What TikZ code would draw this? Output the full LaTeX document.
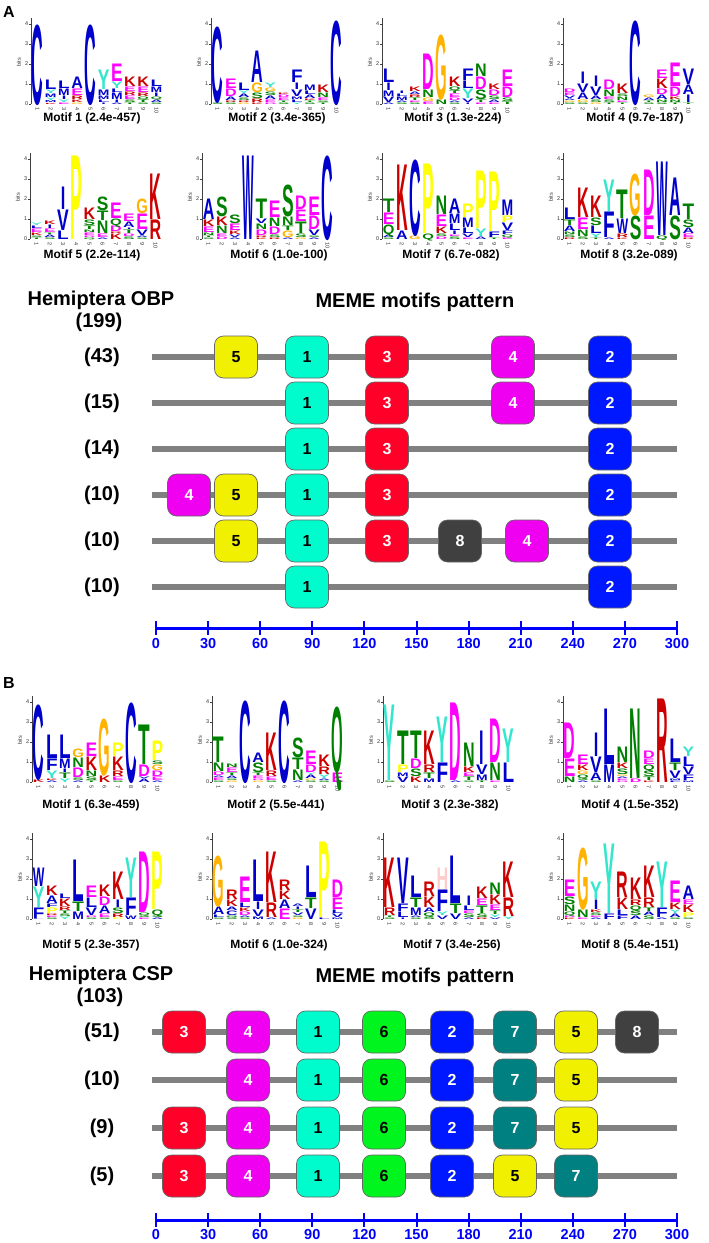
\documentclass[tikz,border=0pt]{standalone}
\usepackage{fontspec}
\setmainfont{Liberation Sans}
\usepackage{graphicx}
% logo colours
\definecolor{lgBlue}{RGB}{0,0,204}
\definecolor{lgGreen}{RGB}{0,128,0}
\definecolor{lgMag}{RGB}{255,0,255}
\definecolor{lgRed}{RGB}{204,0,0}
\definecolor{lgOrange}{RGB}{255,179,0}
\definecolor{lgYel}{RGB}{255,255,0}
\definecolor{lgCyan}{RGB}{51,230,204}
\definecolor{lgPink}{RGB}{255,204,204}
\colorlet{aaA}{lgBlue}\colorlet{aaC}{lgBlue}\colorlet{aaF}{lgBlue}\colorlet{aaI}{lgBlue}
\colorlet{aaL}{lgBlue}\colorlet{aaV}{lgBlue}\colorlet{aaW}{lgBlue}\colorlet{aaM}{lgBlue}
\colorlet{aaN}{lgGreen}\colorlet{aaQ}{lgGreen}\colorlet{aaS}{lgGreen}\colorlet{aaT}{lgGreen}
\colorlet{aaD}{lgMag}\colorlet{aaE}{lgMag}
\colorlet{aaK}{lgRed}\colorlet{aaR}{lgRed}
\colorlet{aaG}{lgOrange}\colorlet{aaP}{lgYel}\colorlet{aaY}{lgCyan}\colorlet{aaH}{lgPink}
% motif box colours
\definecolor{mcolA}{RGB}{0,252,204}
\definecolor{mcolB}{RGB}{0,24,255}
\definecolor{mcolC}{RGB}{255,0,40}
\definecolor{mcolD}{RGB}{240,0,240}
\definecolor{mcolE}{RGB}{240,240,0}
\definecolor{mcolF}{RGB}{0,245,30}
\definecolor{mcolG}{RGB}{0,128,128}
\definecolor{mcolH}{RGB}{64,64,64}
\definecolor{axblue}{RGB}{0,0,255}
\definecolor{linegrey}{RGB}{128,128,128}

\tikzset{
  lgnode/.style={inner sep=0,outer sep=0,anchor=base,font=\bfseries},
  lgax/.style={draw=black!75,line width=0.4pt},
  lgtick/.style={inner sep=0,font=\fontsize{5.5}{6}\selectfont,text=black!80},
  mlab/.style={inner sep=0,font=\fontsize{12}{14}\selectfont\bfseries},
  ttl/.style={inner sep=0,font=\fontsize{20}{24}\selectfont\bfseries},
  panel/.style={inner sep=0,anchor=base west,font=\fontsize{16}{18}\selectfont\bfseries},
  bbline/.style={draw=linegrey,line width=6pt},
  mb/.style={draw=black!60,line width=0.7pt,rounded corners=9pt,minimum width=43pt,
     minimum height=42pt,inner sep=0,font=\fontsize{16}{16}\selectfont\bfseries},
  mb1/.style={mb,fill=mcolA,text=black},
  mb2/.style={mb,fill=mcolB,text=white},
  mb3/.style={mb,fill=mcolC,text=white},
  mb4/.style={mb,fill=mcolD,text=white},
  mb5/.style={mb,fill=mcolE,text=black},
  mb6/.style={mb,fill=mcolF,text=black},
  mb7/.style={mb,fill=mcolG,text=white},
  mb8/.style={mb,fill=mcolH,text=white},
  axln/.style={draw=axblue,line width=3pt},
  axtk/.style={draw=axblue,line width=2pt},
  axl/.style={inner sep=0,anchor=base,text=axblue,font=\fontsize{14.5}{15}\selectfont\bfseries}
}

\def\lgIletter{I}
\def\LX{0}\def\LY{0}
\newcommand\lgaxes[2]{%
  \def\LX{#1}\def\LY{#2}%
  \draw[lgax] (#1,#2) -- (#1,#2-86);
  \foreach \tk in {0,1,2,3,4}{%
    \draw[lgax] (#1-1.8,#2-\tk*20) -- (#1,#2-\tk*20);
    \node[lgtick,anchor=east] at (#1-2.6,#2-\tk*20) {\tk};}
  \node[lgtick,rotate=90] at (#1-12,#2-42) {bits};
  \foreach \cn in {1,...,10}{%
    \node[lgtick,rotate=-90,anchor=west] at (#1+\cn*13.2-6.6,#2+3) {\cn};}
}
\newcommand\lgstack[2]{%
  \gdef\lgbase{0}%
  \foreach \lgL/\lgh in {#2}{%
    \pgfmathsetmacro\lgy{\LY-\lgbase*20}%
    \pgfmathsetmacro\lgx{\LX+(#1-0.5)*13.2}%
    \pgfmathsetmacro\lghh{max(\lgh*20-0.5,0.6)}%
    \edef\lgtmp{\lgL}%
    \ifx\lgtmp\lgIletter\def\lgw{4.5pt}\else\def\lgw{11.6pt}\fi
    \node[lgnode] at (\lgx,\lgy) {\textcolor{aa\lgL}{\resizebox{\lgw}{\lghh pt}{\lgL}}};%
    \pgfmathsetmacro\lgnb{\lgbase+\lgh}\xdef\lgbase{\lgnb}%
  }}

\begin{document}
\begin{tikzpicture}[x=1pt,y=-1pt]
\useasboundingbox[fill=white] (0,0) rectangle (709,1243);

% ================= PANEL A =================
\node[panel] (pA) at (3,17) {A};

% ---- A Motif 1
\lgaxes{31}{104}
\lgstack{1}{C/4.0}
\lgstack{2}{K/0.08,M/0.12,Y/0.15,M/0.2,Y/0.2,L/0.5}
\lgstack{3}{E/0.1,Y/0.15,I/0.2,M/0.35,L/0.4}
\lgstack{4}{G/0.1,K/0.15,R/0.2,E/0.35,A/0.6}
\lgstack{5}{C/4.0}
\lgstack{6}{I/0.1,L/0.15,M/0.2,M/0.3,Y/1.0}
\lgstack{7}{A/0.1,I/0.15,M/0.35,L/0.2,Y/0.35,E/0.9}
\lgstack{8}{T/0.1,S/0.15,E/0.2,R/0.2,E/0.25,K/0.5}
\lgstack{9}{S/0.1,T/0.15,Q/0.15,R/0.2,E/0.3,K/0.5}
\lgstack{10}{S/0.1,A/0.15,Q/0.15,I/0.2,M/0.3,L/0.35}
\node[mlab] (mA1) at (92,118) {Motif 1 (2.4e-457)};

% ---- A Motif 2
\lgaxes{211}{104}
\lgstack{1}{S/0.1,C/3.8}
\lgstack{2}{S/0.1,R/0.1,A/0.2,D/0.4,E/0.5}
\lgstack{3}{G/0.1,R/0.1,S/0.15,A/0.2,Y/0.15,L/0.4}
\lgstack{4}{K/0.1,R/0.2,S/0.3,G/0.5,A/1.6}
\lgstack{5}{D/0.1,E/0.15,A/0.2,S/0.2,G/0.2,Y/0.25}
\lgstack{6}{S/0.1,T/0.1,E/0.15,D/0.15,K/0.1}
\lgstack{7}{Y/0.1,L/0.15,M/0.15,V/0.35,I/0.35,F/0.65}
\lgstack{8}{S/0.1,T/0.1,K/0.1,A/0.2,L/0.2,M/0.3}
\lgstack{9}{T/0.1,S/0.1,E/0.15,N/0.25,K/0.4}
\lgstack{10}{C/4.2}
\node[mlab] (mA2) at (277,118) {Motif 2 (3.4e-365)};

% ---- A Motif 3
\lgaxes{382}{104}
\lgstack{1}{A/0.1,V/0.3,M/0.3,I/0.4,L/0.7}
\lgstack{2}{S/0.1,A/0.1,M/0.2,L/0.15,I/0.15}
\lgstack{3}{S/0.1,E/0.1,T/0.15,R/0.15,A/0.15,K/0.25}
\lgstack{4}{E/0.15,G/0.2,N/0.4,D/1.8}
\lgstack{5}{N/0.25,G/3.25}
\lgstack{6}{S/0.1,A/0.1,D/0.15,E/0.2,T/0.15,Q/0.2,K/0.5}
\lgstack{7}{I/0.1,V/0.2,Y/0.5,L/0.4,F/0.6}
\lgstack{8}{E/0.1,T/0.15,S/0.5,D/0.65,N/0.65}
\lgstack{9}{E/0.1,A/0.15,S/0.2,D/0.3,K/0.3}
\lgstack{10}{T/0.15,S/0.2,D/0.55,E/0.85}
\node[mlab] (mA3) at (453,118) {Motif 3 (1.3e-224)};

% ---- A Motif 4
\lgaxes{563}{104}
\lgstack{1}{S/0.1,G/0.1,A/0.1,V/0.15,E/0.15,D/0.2}
\lgstack{2}{S/0.1,G/0.15,A/0.35,V/0.45,I/0.6}
\lgstack{3}{G/0.1,S/0.15,A/0.2,V/0.45,I/0.55}
\lgstack{4}{T/0.1,S/0.15,E/0.15,N/0.35,D/0.5}
\lgstack{5}{T/0.1,E/0.1,N/0.2,S/0.15,K/0.5}
\lgstack{6}{C/4.2}
\lgstack{7}{S/0.1,T/0.1,A/0.15,G/0.15}
\lgstack{8}{S/0.1,N/0.15,A/0.25,D/0.3,K/0.5,E/0.45}
\lgstack{9}{T/0.1,N/0.15,K/0.15,D/0.5,E/1.2}
\lgstack{10}{T/0.1,I/0.4,A/0.5,V/0.8}
\node[mlab] (mA4) at (635,118) {Motif 4 (9.7e-187)};

% ---- A Motif 5
\lgaxes{30}{239}
\lgstack{1}{T/0.1,S/0.1,K/0.15,E/0.2,L/0.15,Y/0.15}
\lgstack{2}{S/0.1,A/0.15,T/0.1,E/0.2,I/0.2,K/0.2}
\lgstack{3}{L/0.45,V/1.05,I/1.15}
\lgstack{4}{P/4.2}
\lgstack{5}{Q/0.1,D/0.1,E/0.15,N/0.15,T/0.2,S/0.3,K/0.6}
\lgstack{6}{A/0.1,E/0.2,N/0.65,T/0.5,S/0.7}
\lgstack{7}{K/0.3,R/0.1,D/0.3,Q/0.35,E/0.8}
\lgstack{8}{S/0.15,D/0.15,T/0.2,I/0.1,A/0.3,E/0.4}
\lgstack{9}{S/0.1,A/0.1,V/0.3,E/0.8,G/0.75}
\lgstack{10}{R/1.0,K/2.3}
\node[mlab] (mA5) at (92,255) {Motif 5 (2.2e-114)};

% ---- A Motif 6
\lgaxes{202}{239}
\lgstack{1}{S/0.1,T/0.1,N/0.15,E/0.3,K/0.35,A/1.05}
\lgstack{2}{D/0.15,E/0.15,N/0.4,K/0.45,S/1.0}
\lgstack{3}{A/0.1,V/0.15,K/0.2,E/0.35,S/0.45}
\lgstack{4}{W/4.2}
\lgstack{5}{K/0.1,R/0.1,D/0.3,N/0.3,V/0.25,T/1.0}
\lgstack{6}{R/0.1,S/0.15,D/0.4,N/0.45,E/0.85}
\lgstack{7}{A/0.1,G/0.35,T/0.25,N/0.45,S/1.6}
\lgstack{8}{G/0.1,S/0.2,T/0.6,E/0.6,D/0.7}
\lgstack{9}{A/0.1,S/0.1,V/0.3,D/0.7,E/0.95}
\lgstack{10}{C/4.2}
\node[mlab] (mA6) at (279,255) {Motif 6 (1.0e-100)};

% ---- A Motif 7
\lgaxes{382}{239}
\lgstack{1}{S/0.1,A/0.15,Q/0.5,E/0.6,T/0.7}
\lgstack{2}{A/0.45,K/3.3}
\lgstack{3}{G/0.2,C/3.8}
\lgstack{4}{Q/0.3,P/3.5}
\lgstack{5}{D/0.15,S/0.15,K/0.35,E/0.6,N/0.95}
\lgstack{6}{S/0.15,E/0.1,I/0.2,L/0.35,M/0.5,A/0.75}
\lgstack{7}{E/0.1,V/0.2,L/0.3,M/0.5,P/0.7}
\lgstack{8}{A/0.15,Y/0.4,P/2.9}
\lgstack{9}{T/0.1,F/0.3,P/3.0}
\lgstack{10}{E/0.1,Q/0.15,F/0.2,V/0.4,P/0.35,M/0.8}
\node[mlab] (mA7) at (451,255) {Motif 7 (6.7e-082)};

% ---- A Motif 8
\lgaxes{563}{239}
\lgstack{1}{R/0.1,S/0.15,N/0.15,A/0.3,T/0.3,L/0.6}
\lgstack{2}{S/0.15,N/0.35,E/0.6,K/1.5}
\lgstack{3}{T/0.1,Y/0.2,L/0.4,S/0.4,K/1.1}
\lgstack{4}{A/0.1,F/1.3,Y/1.6}
\lgstack{5}{K/0.1,R/0.2,W/0.75,T/1.45}
\lgstack{6}{S/1.2,G/2.1}
\lgstack{7}{E/1.2,D/2.3}
\lgstack{8}{Q/0.2,W/3.7}
\lgstack{9}{S/1.2,A/1.9}
\lgstack{10}{R/0.1,E/0.2,A/0.3,S/0.4,T/0.8}
\node[mlab] (mA8) at (629,255) {Motif 8 (3.2e-089)};

% ---- A pattern
\node[ttl] (tA1) at (101,300) {Hemiptera OBP};
\node[ttl] (tA2) at (99,322) {(199)};
\node[ttl] (tA3) at (415,302) {MEME motifs pattern};

\foreach \ry/\rl/\rn in {357/(43)/1,403/(15)/2,449/(14)/3,495/(10)/4,541/(10)/5,587/(10)/6}{
  \node[ttl] (rlA\rn) at (102,\ry) {\rl};
  \coordinate (lsA\rn) at (152,\ry);
  \coordinate (leA\rn) at (677,\ry);
  \draw[bbline] (lsA\rn) -- (leA\rn);
}
% row 1 (43)
\node[mb5] (a1m5) at (236,357) {5};
\node[mb1] (a1m1) at (307,357) {1};
\node[mb3] (a1m3) at (387,357) {3};
\node[mb4] (a1m4) at (513,357) {4};
\node[mb2] (a1m2) at (610,357) {2};
% row 2 (15)
\node[mb1] (a2m1) at (307,403) {1};
\node[mb3] (a2m3) at (387,403) {3};
\node[mb4] (a2m4) at (513,403) {4};
\node[mb2] (a2m2) at (610,403) {2};
% row 3 (14)
\node[mb1] (a3m1) at (307,449) {1};
\node[mb3] (a3m3) at (387,449) {3};
\node[mb2] (a3m2) at (610,449) {2};
% row 4 (10)
\node[mb4] (a4m4) at (189,495) {4};
\node[mb5] (a4m5) at (236,495) {5};
\node[mb1] (a4m1) at (307,495) {1};
\node[mb3] (a4m3) at (387,495) {3};
\node[mb2] (a4m2) at (610,495) {2};
% row 5 (10)
\node[mb5] (a5m5) at (236,541) {5};
\node[mb1] (a5m1) at (307,541) {1};
\node[mb3] (a5m3) at (387,541) {3};
\node[mb8] (a5m8) at (460,541) {8};
\node[mb4] (a5m4) at (527,541) {4};
\node[mb2] (a5m2) at (610,541) {2};
% row 6 (10)
\node[mb1] (a6m1) at (307,587) {1};
\node[mb2] (a6m2) at (610,587) {2};

% axis A
\coordinate (axA0) at (156,628);
\coordinate (axA1) at (677,628);
\draw[axln] (axA0) -- (axA1);
\foreach \k in {0,...,10}{
  \pgfmathsetmacro\xk{156+\k*52.1}
  \pgfmathtruncatemacro\vk{\k*30}
  \draw[axtk] (\xk,621) -- (\xk,635);
  \node[axl] (axAl\k) at (\xk,648) {\vk};
}

% ================= PANEL B =================
\node[panel] (pB) at (3,688) {B};

% ---- B Motif 1
\lgaxes{32}{782}
\lgstack{1}{K/0.15,C/3.75}
\lgstack{2}{A/0.1,K/0.1,Y/0.4,F/0.6,L/1.2}
\lgstack{3}{Y/0.2,T/0.3,I/0.2,M/0.5,L/1.2}
\lgstack{4}{A/0.1,S/0.15,D/0.5,N/0.5,G/0.45}
\lgstack{5}{T/0.1,S/0.2,N/0.3,K/0.7,E/0.7}
\lgstack{6}{K/0.35,G/2.85}
\lgstack{7}{S/0.1,E/0.2,R/0.3,K/0.7,P/0.7}
\lgstack{8}{C/4.0}
\lgstack{9}{A/0.2,V/0.1,D/0.6,T/2.0}
\lgstack{10}{A/0.1,E/0.2,D/0.3,G/0.3,S/0.2,P/1.0}
\node[mlab] (mB1) at (91,805) {Motif 1 (6.3e-459)};

% ---- B Motif 2
\lgaxes{212}{782}
\lgstack{1}{S/0.1,E/0.15,A/0.1,D/0.2,N/0.45,T/1.3}
\lgstack{2}{G/0.1,S/0.1,A/0.15,T/0.15,E/0.25,N/0.2}
\lgstack{3}{C/4.1}
\lgstack{4}{G/0.1,D/0.1,E/0.15,T/0.15,S/0.5,A/0.5}
\lgstack{5}{S/0.1,E/0.2,R/0.3,K/1.9}
\lgstack{6}{C/4.1}
\lgstack{7}{A/0.1,N/0.55,T/0.6,S/1.0}
\lgstack{8}{S/0.1,G/0.1,A/0.2,Y/0.1,D/0.4,E/0.7}
\lgstack{9}{S/0.1,A/0.1,Y/0.2,R/0.4,K/0.6}
\lgstack{10}{E/0.5,Q/3.3}
\node[mlab] (mB2) at (276,805) {Motif 2 (5.5e-441)};

% ---- B Motif 3
\lgaxes{383}{782}
\lgstack{1}{S/0.1,Y/3.8}
\lgstack{2}{V/0.3,M/0.2,P/0.4,T/1.7}
\lgstack{3}{K/0.3,S/0.4,D/0.5,T/1.4}
\lgstack{4}{M/0.2,T/0.3,R/0.4,K/1.7}
\lgstack{5}{F/1.0,Y/2.3}
\lgstack{6}{A/0.1,D/3.9}
\lgstack{7}{S/0.1,T/0.2,E/0.2,K/0.3,N/1.2}
\lgstack{8}{T/0.1,M/0.3,V/0.5,I/1.7}
\lgstack{9}{E/0.1,N/0.9,D/2.2}
\lgstack{10}{L/1.0,Y/1.7}
\node[mlab] (mB3) at (450,805) {Motif 3 (2.3e-382)};

% ---- B Motif 4
\lgaxes{563}{782}
\lgstack{1}{N/0.3,E/0.9,D/1.8}
\lgstack{2}{A/0.1,S/0.1,Q/0.2,G/0.2,K/0.3,E/0.5}
\lgstack{3}{S/0.1,A/0.4,V/0.8,I/1.2}
\lgstack{4}{M/0.9,L/2.8}
\lgstack{5}{D/0.1,E/0.1,A/0.1,G/0.1,S/0.3,K/0.3,N/0.8}
\lgstack{6}{D/0.2,N/3.5}
\lgstack{7}{K/0.1,T/0.2,S/0.3,Q/0.3,E/0.3,D/0.4}
\lgstack{8}{R/4.2}
\lgstack{9}{F/0.1,M/0.1,V/0.4,T/0.4,L/1.2}
\lgstack{10}{M/0.1,F/0.3,V/0.4,L/0.5,Y/0.5}
\node[mlab] (mB4) at (630,805) {Motif 4 (1.5e-352)};

% ---- B Motif 5
\lgaxes{32}{919}
\lgstack{1}{L/0.05,F/0.55,Y/1.05,W/0.95}
\lgstack{2}{S/0.1,E/0.1,R/0.1,P/0.3,F/0.2,A/0.4,K/0.5}
\lgstack{3}{Y/0.15,S/0.15,T/0.15,R/0.2,K/0.4,L/0.25}
\lgstack{4}{M/0.4,T/0.5,L/2.1}
\lgstack{5}{S/0.1,D/0.1,V/0.4,L/0.5,E/0.6}
\lgstack{6}{S/0.1,E/0.2,A/0.4,D/0.45,K/0.6}
\lgstack{7}{P/0.1,R/0.2,S/0.3,I/0.4,K/1.4}
\lgstack{8}{W/0.2,F/0.9,Y/2.0}
\lgstack{9}{E/0.1,S/0.1,Q/0.15,D/3.05}
\lgstack{10}{A/0.1,S/0.1,Q/0.3,P/2.9}
\node[mlab] (mB5) at (91,945) {Motif 5 (2.3e-357)};

% ---- B Motif 6
\lgaxes{212}{919}
\lgstack{1}{S/0.1,L/0.15,A/0.4,G/2.55}
\lgstack{2}{S/0.1,Q/0.1,C/0.25,A/0.2,K/0.35,R/0.5}
\lgstack{3}{S/0.1,A/0.1,D/0.2,K/0.2,L/0.25,E/1.3}
\lgstack{4}{M/0.15,V/0.35,I/0.4,L/2.1}
\lgstack{5}{A/0.1,R/0.75,K/2.55}
\lgstack{6}{E/0.55,A/0.45,K/0.45,R/0.55}
\lgstack{7}{G/0.1,S/0.1,V/0.15,T/0.15,I/0.15,A/0.15}
\lgstack{8}{V/0.55,T/0.55,L/1.6}
\lgstack{9}{L/0.1,P/3.8}
\lgstack{10}{M/0.1,V/0.2,L/0.2,E/0.6,D/0.9}
\node[mlab] (mB6) at (279,945) {Motif 6 (1.0e-324)};

% ---- B Motif 7
\lgaxes{383}{919}
\lgstack{1}{S/0.1,T/0.1,R/0.4,K/2.5}
\lgstack{2}{I/0.1,L/0.3,F/0.4,V/2.3}
\lgstack{3}{S/0.1,A/0.1,M/0.4,T/0.5,L/1.1}
\lgstack{4}{S/0.15,Q/0.2,A/0.25,K/0.55,R/0.75}
\lgstack{5}{V/0.2,Y/0.2,F/1.1,H/1.1}
\lgstack{6}{V/0.3,T/0.5,L/2.4}
\lgstack{7}{A/0.1,S/0.2,E/0.15,L/0.25,I/0.5}
\lgstack{8}{R/0.1,S/0.2,T/0.4,E/0.35,K/0.6}
\lgstack{9}{V/0.1,Y/0.15,T/0.2,E/0.3,K/0.5,N/0.6}
\lgstack{10}{Y/0.15,R/0.95,K/1.8}
\node[mlab] (mB7) at (452,945) {Motif 7 (3.4e-256)};

% ---- B Motif 8
\lgaxes{563}{919}
\lgstack{1}{K/0.1,D/0.1,Q/0.2,N/0.35,S/0.4,E/0.85}
\lgstack{2}{E/0.1,N/0.4,G/3.1}
\lgstack{3}{A/0.1,E/0.1,S/0.15,K/0.15,I/0.5,Y/0.9}
\lgstack{4}{F/0.3,Y/3.5}
\lgstack{5}{F/0.2,L/0.3,K/0.6,R/1.3}
\lgstack{6}{A/0.2,S/0.25,Q/0.25,R/0.3,K/1.1}
\lgstack{7}{S/0.2,A/0.2,T/0.2,R/0.5,K/1.6}
\lgstack{8}{A/0.1,F/0.5,Y/2.3}
\lgstack{9}{S/0.1,A/0.2,Y/0.2,K/0.35,E/1.1}
\lgstack{10}{S/0.1,P/0.25,K/0.4,E/0.25,A/0.7}
\node[mlab] (mB8) at (630,945) {Motif 8 (5.4e-151)};

% ---- B pattern
\node[ttl] (tB1) at (101,975) {Hemiptera CSP};
\node[ttl] (tB2) at (100,997) {(103)};
\node[ttl] (tB3) at (415,977) {MEME motifs pattern};

\foreach \ry/\rl/\rn in {1032/(51)/1,1080/(10)/2,1128/(9)/3,1176/(5)/4}{
  \node[ttl] (rlB\rn) at (102,\ry) {\rl};
  \coordinate (lsB\rn) at (152,\ry);
  \coordinate (leB\rn) at (677,\ry);
  \draw[bbline] (lsB\rn) -- (leB\rn);
}
% row (51)
\node[mb3] (b1m3) at (184,1032) {3};
\node[mb4] (b1m4) at (248,1032) {4};
\node[mb1] (b1m1) at (318,1032) {1};
\node[mb6] (b1m6) at (384,1032) {6};
\node[mb2] (b1m2) at (452,1032) {2};
\node[mb7] (b1m7) at (515,1032) {7};
\node[mb5] (b1m5) at (576,1032) {5};
\node[mb8] (b1m8) at (637,1032) {8};
% row (10)
\node[mb4] (b2m4) at (248,1080) {4};
\node[mb1] (b2m1) at (318,1080) {1};
\node[mb6] (b2m6) at (384,1080) {6};
\node[mb2] (b2m2) at (452,1080) {2};
\node[mb7] (b2m7) at (515,1080) {7};
\node[mb5] (b2m5) at (576,1080) {5};
% row (9)
\node[mb3] (b3m3) at (184,1128) {3};
\node[mb4] (b3m4) at (248,1128) {4};
\node[mb1] (b3m1) at (318,1128) {1};
\node[mb6] (b3m6) at (384,1128) {6};
\node[mb2] (b3m2) at (452,1128) {2};
\node[mb7] (b3m7) at (515,1128) {7};
\node[mb5] (b3m5) at (576,1128) {5};
% row (5)
\node[mb3] (b4m3) at (184,1176) {3};
\node[mb4] (b4m4) at (248,1176) {4};
\node[mb1] (b4m1) at (318,1176) {1};
\node[mb6] (b4m6) at (384,1176) {6};
\node[mb2] (b4m2) at (452,1176) {2};
\node[mb5] (b4m5) at (515,1176) {5};
\node[mb7] (b4m7) at (576,1176) {7};

% axis B
\coordinate (axB0) at (156,1220);
\coordinate (axB1) at (677,1220);
\draw[axln] (axB0) -- (axB1);
\foreach \k in {0,...,10}{
  \pgfmathsetmacro\xk{156+\k*52.1}
  \pgfmathtruncatemacro\vk{\k*30}
  \draw[axtk] (\xk,1213) -- (\xk,1227);
  \node[axl] (axBl\k) at (\xk,1239) {\vk};
}
\end{tikzpicture}
\end{document}
